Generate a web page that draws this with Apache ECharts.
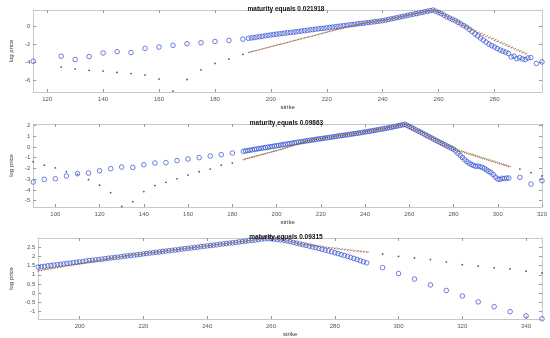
<!DOCTYPE html>
<html><head><meta charset="utf-8">
<script src="https://cdn.jsdelivr.net/npm/echarts@6/dist/echarts.min.js"></script>
<style>html,body{margin:0;padding:0;background:#fff}#c{width:550px;height:338px}</style>
</head><body><div id="c"></div>
<script>
// ---------- Panel 1 ----------
const p1Title = 'maturity equals 0.021918';
const p1XTicks = [120,140,160,180,200,220,240,260,280];
const p1YTicks = [-6,-4,-2,0];
const p1BlueSparseK = [115,125,130,135,140,145,150,155,160,165,170,175,180,185,190,295,297];
const p1BlueSparseV = [-3.85,-3.3,-3.66,-3.34,-2.94,-2.8,-2.9,-2.43,-2.29,-2.1,-1.92,-1.81,-1.67,-1.56,-1.42,-4.1,-3.93];
const p1BlueDenseK0 = 192;
const p1BlueDenseV = [-1.33,-1.28,-1.24,-1.19,-1.14,-1.09,-1.05,-1.00,-0.95,
 -0.91,-0.87,-0.83,-0.79,-0.75,-0.71,-0.68,-0.64,-0.60,-0.56,
 -0.52,-0.48,-0.44,-0.40,-0.36,-0.32,-0.28,-0.24,-0.21,-0.17,
 -0.13,-0.09,-0.05,-0.01,0.03,0.07,0.11,0.15,0.19,0.23,
 0.27,0.31,0.34,0.38,0.42,0.46,0.50,0.54,0.58,0.62,
 0.69,0.75,0.82,0.88,0.95,1.01,1.08,1.14,1.21,1.27,
 1.34,1.40,1.47,1.53,1.60,1.66,1.73,1.79,
 1.66,1.53,1.40,1.22,1.05,0.90,0.76,0.62,0.44,0.26,
 0.08,-0.10,-0.34,-0.58,-0.83,-1.06,-1.29,-1.52,-1.74,-1.96,
 -2.13,-2.29,-2.45,-2.62,-2.74,-2.86,-3.00,-3.38,-3.30,-3.56,
 -3.45,-3.60,-3.67,-3.50,-3.45];
const p1ModelDenseK0 = 192;
const p1ModelDenseV = [-2.90,-2.82,-2.74,-2.66,-2.58,-2.50,-2.42,-2.34,-2.26,
 -2.18,-2.10,-2.02,-1.94,-1.86,-1.78,-1.70,-1.62,-1.54,-1.46,
 -1.38,-1.30,-1.22,-1.14,-1.06,-0.98,-0.90,-0.82,-0.74,-0.66,
 -0.58,-0.50,-0.42,-0.34,-0.26,-0.18,-0.10,-0.03,0.04,0.11,
 0.18,0.25,0.31,0.36,0.41,0.46,0.51,0.55,0.59,0.63,
 0.69,0.75,0.82,0.88,0.95,1.01,1.08,1.14,1.21,1.27,
 1.34,1.40,1.47,1.53,1.60,1.66,1.73,1.79,
 1.66,1.53,1.40,1.22,1.05,0.90,0.76,0.62,0.44,0.26,
 0.08,-0.08,-0.24,-0.40,-0.55,-0.70,-0.84,-0.98,-1.12,-1.26,
 -1.40,-1.54,-1.68,-1.82,-1.96,-2.10,-2.24,-2.37,-2.50,-2.63,
 -2.76,-2.89,-3.02];
const p1ModelSparseK = [125,130,135,140,145,150,155,160,165,170,175,180,185,190];
const p1ModelSparseV = [-4.5,-4.72,-4.86,-4.94,-5.1,-5.22,-5.38,-5.82,-7.15,-5.87,-4.8,-4.1,-3.6,-3.09];

// ---------- Panel 2 ----------
const p2Title = 'maturity equals 0.09863';
const p2XTicks = [100,120,140,160,180,200,220,240,260,280,300,320];
const p2YTicks = [-5,-4,-3,-2,-1,0,1,2];
const p2BlueSparseK = [90,95,100,105,110,115,120,125,130,135,140,145,150,155,160,165,170,175,180,310,315,320];
const p2BlueSparseV = [-3.27,-3.02,-2.96,-2.7,-2.49,-2.43,-2.21,-2.02,-1.87,-1.9,-1.65,-1.49,-1.46,-1.27,-1.12,-0.99,-0.84,-0.71,-0.56,-2.83,-3.46,-3.15];
const p2BlueDenseK0 = 185;
const p2BlueDenseV = [-0.40,-0.36,-0.33,-0.29,-0.26,-0.22,-0.19,-0.15,-0.12,-0.08,
 -0.05,-0.02,0.02,0.05,0.09,0.12,0.15,0.19,0.22,0.26,
 0.29,0.32,0.36,0.39,0.43,0.46,0.49,0.52,0.56,0.59,
 0.62,0.65,0.68,0.72,0.75,0.78,0.81,0.84,0.87,0.90,
 0.93,0.96,0.99,1.03,1.06,1.09,1.12,1.15,1.18,1.21,
 1.24,1.27,1.30,1.34,1.37,1.40,1.44,1.47,1.51,1.54,
 1.58,1.62,1.66,1.69,1.73,1.77,1.81,1.85,1.90,1.94,
 1.98,2.03,2.07,2.12,2.02,1.91,1.81,1.71,1.60,1.50,
 1.40,1.29,1.18,1.07,0.96,0.85,0.74,0.63,0.53,0.42,
 0.32,0.21,0.11,0.00,-0.10,-0.20,-0.38,-0.58,-0.78,-0.98,
 -1.18,-1.36,-1.50,-1.62,-1.72,-1.80,-1.78,-1.84,-1.90,-2.02,
 -2.15,-2.28,-2.40,-2.58,-2.80,-2.98,-3.02,-2.92,-2.95,-2.90,-2.90];
const p2ModelDenseK0 = 185;
const p2ModelDenseV = [-1.18,-1.12,-1.07,-1.01,-0.96,-0.90,-0.84,-0.79,-0.73,-0.68,
 -0.62,-0.56,-0.51,-0.45,-0.40,-0.34,-0.28,-0.22,-0.15,-0.09,
 -0.02,0.04,0.10,0.17,0.23,0.30,0.36,0.43,0.49,0.56,
 0.62,0.65,0.68,0.72,0.75,0.78,0.81,0.84,0.87,0.90,
 0.93,0.96,0.99,1.03,1.06,1.09,1.12,1.15,1.18,1.21,
 1.24,1.27,1.30,1.34,1.37,1.40,1.44,1.47,1.51,1.54,
 1.58,1.62,1.66,1.69,1.73,1.77,1.81,1.85,1.90,1.94,
 1.98,2.03,2.07,2.12,2.02,1.91,1.81,1.71,1.60,1.50,
 1.40,1.29,1.18,1.07,0.96,0.85,0.74,0.63,0.53,0.42,
 0.32,0.21,0.11,0.00,-0.10,-0.21,-0.28,-0.34,-0.41,-0.47,
 -0.54,-0.60,-0.67,-0.73,-0.80,-0.86,-0.93,-0.99,-1.06,-1.12,
 -1.19,-1.25,-1.32,-1.38,-1.45,-1.51,-1.58,-1.64,-1.71,-1.77,-1.84];
const p2ModelSparseK = [90,95,100,105,110,115,120,125,130,135,140,145,150,155,160,165,170,175,180,310,315,320];
const p2ModelSparseV = [-1.37,-1.69,-1.94,-2.3,-2.55,-3.05,-3.56,-4.25,-5.55,-5.1,-4.16,-3.6,-3.3,-2.97,-2.62,-2.31,-2.06,-1.69,-1.5,-2.06,-2.39,-2.7];

// ---------- Panel 3 ----------
const p3Title = 'maturity equals 0.09315';
const p3XTicks = [200,220,240,260,280,300,320,340];
const p3YTicks = [-1,-0.5,0,0.5,1,1.5,2,2.5];
const p3BlueSparseK = [295,300,305,310,315,320,325,330,335,340,345];
const p3BlueSparseV = [1.39,1.07,0.77,0.45,0.15,-0.15,-0.47,-0.73,-1.0,-1.23,-1.39];
const p3BlueDenseK0 = 187;
const p3BlueDenseV = [1.42,1.44,1.46,1.49,1.51,1.53,1.55,1.57,1.59,1.62,
 1.64,1.66,1.68,1.70,1.72,1.75,1.77,1.79,1.81,1.83,
 1.85,1.88,1.90,1.92,1.94,1.96,1.98,2.01,2.03,2.05,
 2.07,2.09,2.11,2.14,2.16,2.18,2.20,2.22,2.24,2.27,
 2.29,2.31,2.33,2.35,2.37,2.40,2.42,2.44,2.46,2.48,
 2.50,2.53,2.55,2.57,2.59,2.61,2.63,2.66,2.68,2.70,
 2.72,2.74,2.76,2.79,2.81,2.83,2.85,2.87,2.89,2.92,
 2.94,2.96,2.97,2.96,2.94,2.92,2.90,2.88,2.84,2.80,
 2.76,2.72,2.68,2.64,2.60,2.56,2.52,2.48,2.43,2.39,
 2.34,2.30,2.25,2.20,2.15,2.10,2.05,2.00,1.94,1.89,
 1.83,1.77,1.71,1.65];
const p3ModelDenseK0 = 187;
const p3ModelDenseV = [1.21,1.24,1.27,1.30,1.33,1.36,1.39,1.42,1.45,1.48,
 1.51,1.54,1.57,1.60,1.63,1.66,1.69,1.72,1.75,1.78,
 1.81,1.84,1.87,1.90,1.94,1.96,1.98,2.01,2.03,2.05,
 2.07,2.09,2.11,2.14,2.16,2.18,2.20,2.22,2.24,2.27,
 2.29,2.31,2.33,2.35,2.37,2.40,2.42,2.44,2.46,2.48,
 2.50,2.53,2.55,2.57,2.59,2.61,2.63,2.66,2.68,2.70,
 2.72,2.74,2.76,2.79,2.81,2.83,2.85,2.87,2.89,2.92,
 2.94,2.96,2.97,2.96,2.94,2.92,2.90,2.88,2.84,2.80,
 2.76,2.72,2.68,2.64,2.62,2.60,2.58,2.56,2.54,2.51,
 2.49,2.47,2.45,2.43,2.40,2.38,2.36,2.34,2.32,2.30,
 2.28,2.26,2.24,2.22];
const p3ModelSparseK = [295,300,305,310,315,320,325,330,335,340,345];
const p3ModelSparseV = [2.13,2.0,1.92,1.83,1.69,1.55,1.47,1.38,1.32,1.2,1.1];

const panels = [
 {title:p1Title, xt:p1XTicks, yt:p1YTicks, xmin:115, xmax:297, ymin:-7.25, ymax:1.8,
  bs:[p1BlueSparseK,p1BlueSparseV], bd:[p1BlueDenseK0,p1BlueDenseV], md:[p1ModelDenseK0,p1ModelDenseV], ms:[p1ModelSparseK,p1ModelSparseV],
  grid:{left:20,top:10,width:522,height:82}, titleTop:1},
 {title:p2Title, xt:p2XTicks, yt:p2YTicks, xmin:90, xmax:320, ymin:-5.6, ymax:2.15,
  bs:[p2BlueSparseK,p2BlueSparseV], bd:[p2BlueDenseK0,p2BlueDenseV], md:[p2ModelDenseK0,p2ModelDenseV], ms:[p2ModelSparseK,p2ModelSparseV],
  grid:{left:21,top:124,width:521,height:83}, titleTop:115},
 {title:p3Title, xt:p3XTicks, yt:p3YTicks, xmin:187, xmax:345, ymin:-1.4, ymax:3.0,
  bs:[p3BlueSparseK,p3BlueSparseV], bd:[p3BlueDenseK0,p3BlueDenseV], md:[p3ModelDenseK0,p3ModelDenseV], ms:[p3ModelSparseK,p3ModelSparseV],
  grid:{left:20,top:238,width:522,height:83}, titleTop:229}
];

const FONT = 'Liberation Sans';
const grids=[], xAxes=[], yAxes=[], series=[], titles=[];
const boxLine = {show:true, onZero:false, lineStyle:{color:'#c8c8c8', width:1}};
const tickStyle = {color:'#9a9a9a', width:1};
panels.forEach((p,i)=>{
  grids.push(p.grid);
  titles.push({text:p.title, left:p.grid.left + p.grid.width/2, top:p.titleTop, textAlign:'center',
    textStyle:{fontFamily:FONT, fontSize:6.5, fontWeight:'bold', color:'#111'}});
  const xb = {type:'value', gridIndex:i, min:p.xmin, max:p.xmax, position:'bottom',
    axisLine:boxLine, splitLine:{show:false},
    axisTick:{show:true, inside:true, length:3, customValues:p.xt, lineStyle:tickStyle},
    axisLabel:{show:true, customValues:p.xt, fontSize:6, color:'#555', margin:4, fontFamily:FONT},
    name:'strike', nameLocation:'middle', nameGap:12, nameTextStyle:{fontSize:6, color:'#333', fontFamily:FONT}};
  const xt = {type:'value', gridIndex:i, min:p.xmin, max:p.xmax, position:'top',
    axisLine:boxLine, splitLine:{show:false},
    axisTick:{show:true, inside:true, length:3, customValues:p.xt, lineStyle:tickStyle},
    axisLabel:{show:false}};
  xAxes.push(xb, xt);
  const yl = {type:'value', gridIndex:i, min:p.ymin, max:p.ymax, position:'left',
    axisLine:boxLine, splitLine:{show:false},
    axisTick:{show:true, inside:true, length:3, customValues:p.yt, lineStyle:tickStyle},
    axisLabel:{show:true, customValues:p.yt, fontSize:6, color:'#555', margin:3, fontFamily:FONT},
    name:'log price', nameLocation:'middle', nameGap:11, nameRotate:90,
    nameTextStyle:{fontSize:6, color:'#333', fontFamily:FONT}};
  const yr = {type:'value', gridIndex:i, min:p.ymin, max:p.ymax, position:'right',
    axisLine:boxLine, splitLine:{show:false},
    axisTick:{show:true, inside:true, length:3, customValues:p.yt, lineStyle:tickStyle},
    axisLabel:{show:false}};
  yAxes.push(yl, yr);
  const xi = 2*i, yi = 2*i;
  const denseBlue = p.bd[1].map((v,j)=>[p.bd[0]+j, v]);
  const sparseBlue = p.bs[0].map((k,j)=>[k, p.bs[1][j]]);
  const denseModel = p.md[1].map((v,j)=>[p.md[0]+j, v]);
  const sparseModel = p.ms[0].map((k,j)=>[k, p.ms[1][j]]);
  series.push({type:'scatter', xAxisIndex:xi, yAxisIndex:yi, data:sparseBlue.concat(denseBlue),
    symbol:'circle', symbolSize:4.6, itemStyle:{color:'rgba(0,0,0,0)', borderColor:'#2f4fd0', borderWidth:0.9},
    silent:true, animation:false, clip:false});
  series.push({type:'scatter', xAxisIndex:xi, yAxisIndex:yi, data:denseModel,
    symbol:'circle', symbolSize:1.5, itemStyle:{color:'#d42a1a'}, silent:true, animation:false});
  series.push({type:'scatter', xAxisIndex:xi, yAxisIndex:yi, data:denseModel,
    symbol:'circle', symbolSize:1.3, symbolOffset:[1.4,-0.6], itemStyle:{color:'#2e8a2e'}, silent:true, animation:false});
  series.push({type:'scatter', xAxisIndex:xi, yAxisIndex:yi, data:sparseModel,
    symbol:'circle', symbolSize:1.8, itemStyle:{color:'#3a2828'}, silent:true, animation:false});
});

const chart = echarts.init(document.getElementById('c'), null, {renderer:'canvas'});
chart.setOption({animation:false, backgroundColor:'#fff', title:titles, grid:grids, xAxis:xAxes, yAxis:yAxes, series:series});
</script></body></html>
